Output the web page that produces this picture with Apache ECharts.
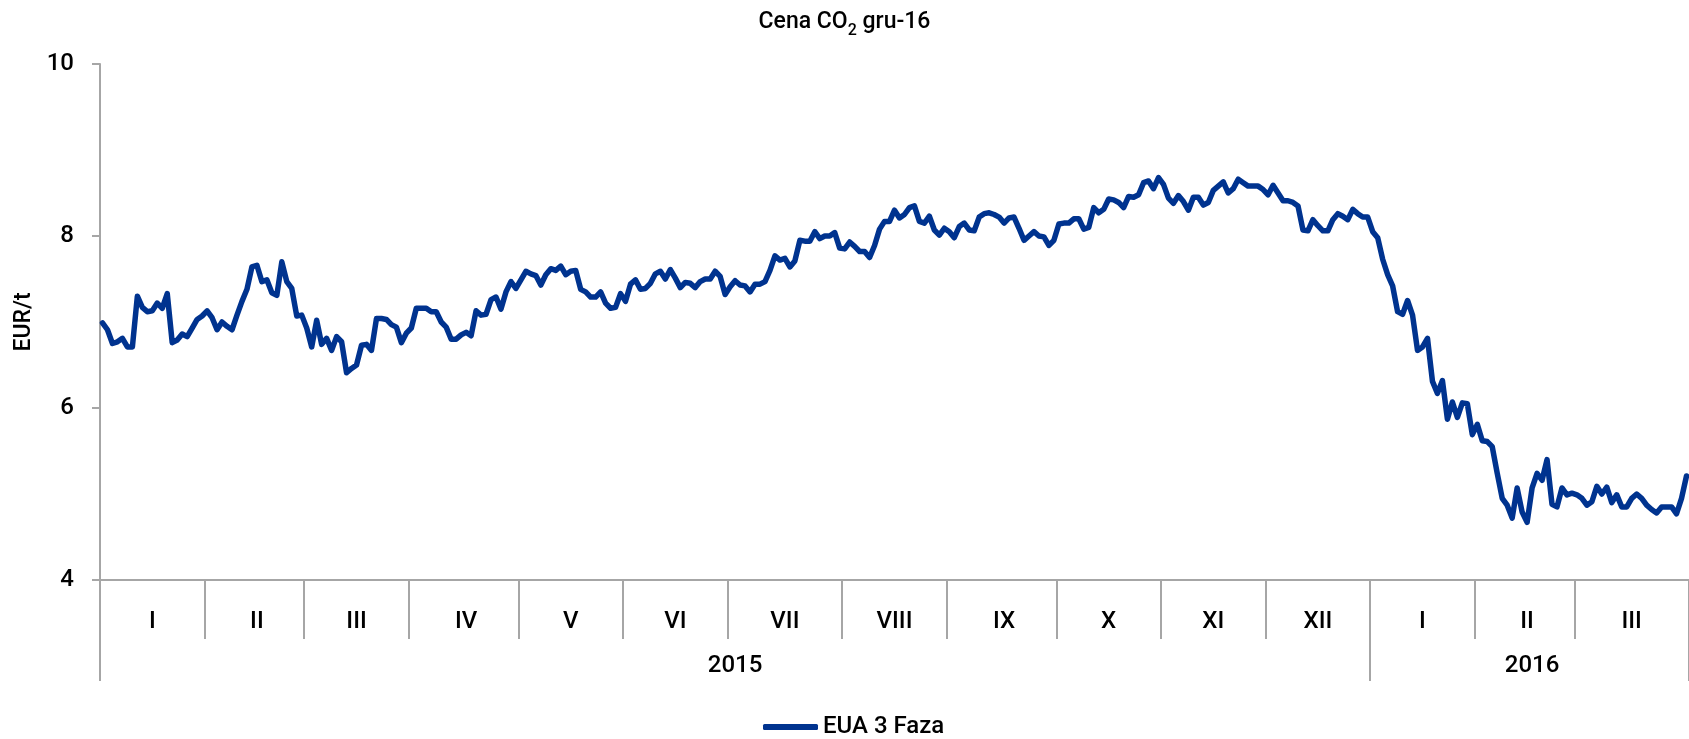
<!DOCTYPE html>
<html>
<head>
<meta charset="utf-8">
<script src="https://cdn.jsdelivr.net/npm/echarts@6/dist/echarts.min.js"></script>
<style>
html,body{margin:0;padding:0;background:#ffffff;}
#chart{width:1689px;height:739px;}
</style>
</head>
<body>
<div id="chart"></div>
<script>
// ---- data ----
const monthLabels = ['I','II','III','IV','V','VI','VII','VIII','IX','X','XI','XII','I','II','III'];
const monthPoints = [21,20,21,22,21,21,23,21,22,21,21,21,21,20,23];
const yearLabels = ['2015','2016'];
const yearMonthCounts = [12,3];
const yMin = 4, yMax = 10, yStep = 2;
const seriesName = 'EUA 3 Faza';
const eua3Price = [
  6.99,6.91,6.75,6.77,6.81,6.71,6.71,7.30,7.17,7.12,
  7.13,7.22,7.16,7.33,6.76,6.79,6.86,6.83,6.93,7.03,
  7.07,7.13,7.05,6.91,7.00,6.95,6.91,7.08,7.24,7.38,
  7.64,7.66,7.47,7.49,7.34,7.31,7.70,7.47,7.39,7.07,
  7.08,6.93,6.71,7.02,6.74,6.81,6.67,6.83,6.77,6.41,
  6.46,6.50,6.73,6.74,6.67,7.04,7.04,7.03,6.97,6.94,
  6.76,6.87,6.93,7.16,7.16,7.16,7.12,7.12,7.00,6.94,
  6.80,6.80,6.85,6.88,6.84,7.13,7.08,7.09,7.26,7.29,
  7.15,7.35,7.47,7.39,7.49,7.59,7.56,7.54,7.43,7.55,
  7.62,7.60,7.65,7.55,7.59,7.60,7.38,7.35,7.29,7.29,
  7.35,7.22,7.16,7.17,7.33,
  7.24,7.44,7.49,7.38,7.39,7.45,7.56,7.59,7.50,7.61,
  7.51,7.40,7.46,7.45,7.40,7.47,7.50,7.50,7.59,7.53,
  7.32,7.41,7.48,7.43,7.42,7.35,7.44,7.44,7.47,7.60,
  7.77,7.72,7.74,7.64,7.71,7.95,7.94,7.94,8.05,7.97,
  8.00,8.00,8.04,7.86,7.85,7.93,7.88,7.82,7.82,7.75,
  7.89,8.08,8.17,8.17,8.30,8.21,8.25,8.33,8.35,8.17,
  8.15,8.23,8.07,8.01,8.09,8.05,7.98,8.11,8.15,8.07,
  8.06,8.22,8.26,8.27,8.25,8.22,8.15,8.21,8.22,8.09,
  7.95,8.00,8.05,8.00,7.99,7.89,7.95,8.14,8.15,8.15,
  8.20,8.20,8.08,8.10,8.33,8.27,8.31,8.43,8.42,8.39,
  8.33,8.46,8.45,8.48,8.62,
  8.64,8.55,8.68,8.60,8.44,8.38,8.47,8.40,8.30,8.45,
  8.45,8.36,8.39,8.53,8.58,8.63,8.50,8.55,8.66,8.62,
  8.58,8.58,8.58,8.54,8.48,8.59,8.50,8.41,8.41,8.39,
  8.35,8.07,8.06,8.19,8.12,8.06,8.06,8.19,8.26,8.23,
  8.19,8.31,8.26,8.22,8.22,8.05,7.98,7.73,7.55,7.42,
  7.12,7.09,7.25,7.08,6.67,6.71,6.81,6.31,6.17,6.32,
  5.87,6.07,5.89,6.06,6.05,5.69,5.81,5.62,5.61,5.55,
  5.24,4.95,4.87,4.72,5.07,4.79,4.67,5.07,5.24,5.16,
  5.40,4.88,4.85,5.07,4.99,5.01,4.99,4.95,4.87,4.91,
  5.09,5.00,5.08,4.90,4.99,4.85,4.85,4.95,5.00,4.95,
  4.87,4.82,4.78,4.85,4.85,4.85,4.77,4.95,5.21
];

// ---- build category axis structure ----
const categories = [];
const monthStart = new Set();
const monthMid = {};
const yearStart = new Set();
const yearMid = {};
let idx = 0, m = 0;
yearLabels.forEach(function (yr, yi) {
  const yStartIdx = idx;
  yearStart.add(idx);
  for (let k = 0; k < yearMonthCounts[yi]; k++, m++) {
    monthStart.add(idx);
    monthMid[idx + Math.floor(monthPoints[m] / 2)] = monthLabels[m];
    for (let d = 0; d < monthPoints[m]; d++) {
      categories.push(yr + '-' + monthLabels[m] + '-' + (d + 1));
      idx++;
    }
  }
  yearMid[yStartIdx + Math.floor((idx - yStartIdx) / 2)] = yr;
});

const FONT = 'Roboto';
const FW = 500;
const AXIS_GRAY = '#a6a6a6';
const LINE_BLUE = '#00338f';

const chart = echarts.init(document.getElementById('chart'), null, {renderer: 'canvas'});
chart.setOption({
  animation: false,
  backgroundColor: '#ffffff',
  title: {
    text: '{a|Cena CO}{s|2}{a| gru-16}',
    left: 'center',
    top: 6,
    textStyle: {
      fontFamily: FONT,
      fontWeight: FW,
      color: '#000',
      rich: {
        a: {fontFamily: FONT, fontWeight: FW, fontSize: 23, color: '#000', lineHeight: 28, verticalAlign: 'top'},
        s: {fontFamily: FONT, fontWeight: FW, fontSize: 16, color: '#000', lineHeight: 15, verticalAlign: 'bottom'}
      }
    }
  },
  legend: {
    data: [seriesName],
    left: 758,
    top: 710,
    icon: 'roundRect',
    itemWidth: 55,
    itemHeight: 6,
    textStyle: {fontFamily: FONT, fontWeight: FW, fontSize: 24, color: '#000'}
  },
  grid: {left: 100, right: 0, top: 64, bottom: 159},
  xAxis: [
    {
      type: 'category',
      data: categories,
      position: 'bottom',
      boundaryGap: true,
      axisLine: {show: true, lineStyle: {color: AXIS_GRAY, width: 2}},
      axisTick: {
        show: true,
        length: 59,
        interval: function (i) { return monthStart.has(i); },
        lineStyle: {color: AXIS_GRAY, width: 2}
      },
      axisLabel: {
        interval: function (i) { return monthMid[i] !== undefined; },
        formatter: function (v, i) { return monthMid[i] || ''; },
        margin: 30,
        fontFamily: FONT,
        fontWeight: FW,
        fontSize: 24,
        color: '#000'
      },
      splitLine: {show: false}
    },
    {
      type: 'category',
      data: categories,
      position: 'bottom',
      offset: 0,
      boundaryGap: true,
      axisLine: {show: false},
      axisTick: {
        show: true,
        length: 101,
        interval: function (i) { return yearStart.has(i); },
        lineStyle: {color: AXIS_GRAY, width: 2}
      },
      axisLabel: {
        interval: function (i) { return yearMid[i] !== undefined; },
        formatter: function (v, i) { return yearMid[i] || ''; },
        margin: 74,
        fontFamily: FONT,
        fontWeight: FW,
        fontSize: 24,
        color: '#000'
      },
      splitLine: {show: false}
    }
  ],
  yAxis: {
    type: 'value',
    min: yMin,
    max: yMax,
    interval: yStep,
    name: 'EUR/t',
    nameLocation: 'middle',
    nameGap: 63,
    nameRotate: 90,
    nameTextStyle: {fontFamily: FONT, fontWeight: FW, fontSize: 23, color: '#000'},
    axisLine: {show: true, lineStyle: {color: AXIS_GRAY, width: 2}},
    axisTick: {show: true, length: 8, lineStyle: {color: AXIS_GRAY, width: 2}},
    axisLabel: {margin: 26, fontFamily: FONT, fontWeight: FW, fontSize: 24, color: '#000'},
    splitLine: {show: false}
  },
  series: [{
    name: seriesName,
    type: 'line',
    xAxisIndex: 0,
    data: eua3Price,
    symbol: 'none',
    showSymbol: false,
    lineStyle: {width: 5.5, color: LINE_BLUE, cap: 'round', join: 'round'},
    itemStyle: {color: LINE_BLUE}
  }]
});
</script>
</body>
</html>
